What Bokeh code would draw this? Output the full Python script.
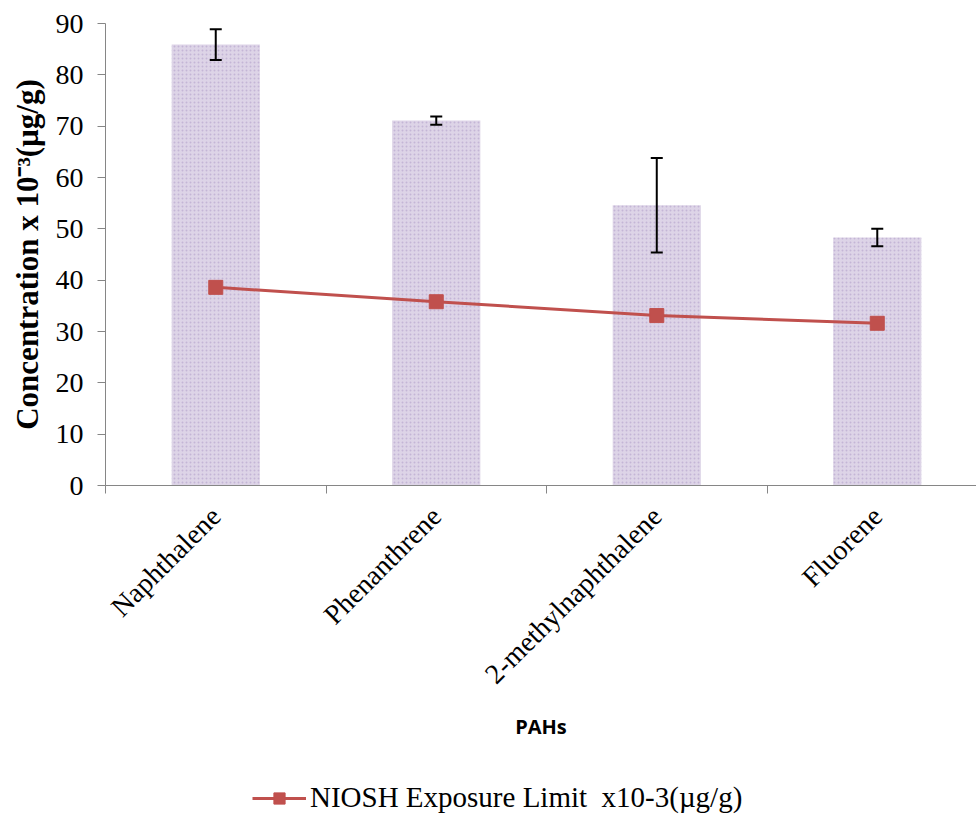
import math
from bokeh.plotting import figure
from bokeh.layouts import column
from bokeh.models import (Range1d, FixedTicker, ColumnDataSource, Whisker, TeeHead,
                          Legend, LegendItem)
from bokeh.embed import file_html
from bokeh.resources import INLINE

categories = ["Naphthalene", "Phenanthrene", "2-methylnaphthalene", "Fluorene"]
concentration = [85.9, 71.1, 54.6, 48.3]
error = [3.0, 0.8, 9.2, 1.7]
niosh_limit = [38.6, 35.8, 33.1, 31.6]
y_ticks = [0, 10, 20, 30, 40, 50, 60, 70, 80, 90]
legend_label = "NIOSH Exposure Limit  x10-3(\u00b5g/g)"

xs = [i + 0.5 for i in range(len(categories))]
src = ColumnDataSource(dict(
    x=xs, top=concentration,
    upper=[c + e for c, e in zip(concentration, error)],
    lower=[c - e for c, e in zip(concentration, error)],
    niosh=niosh_limit,
))

SERIF = "Liberation Serif"
RED = "#c0504d"

p = figure(frame_width=871, frame_height=462, output_backend="svg", toolbar_location=None,
           x_range=Range1d(0, 3.95), y_range=Range1d(0, 90),
           min_border_left=105, min_border_right=0, min_border_top=23, min_border_bottom=262)
p.outline_line_color = None
p.xgrid.visible = False
p.ygrid.visible = False

p.vbar(x="x", top="top", width=0.4, source=src, fill_color="#ddd4e7",
       line_color=None, hatch_pattern="dot", hatch_color="#c4b5d6", hatch_scale=4)

whisk = Whisker(base="x", upper="upper", lower="lower", source=src,
                line_color="black", line_width=2, level="overlay",
                upper_head=TeeHead(size=12, line_color="black", line_width=2),
                lower_head=TeeHead(size=12, line_color="black", line_width=2))
p.add_layout(whisk)

p.line("x", "niosh", source=src, line_color=RED, line_width=3)
p.scatter("x", "niosh", source=src, marker="square", size=14,
          fill_color=RED, line_color=RED)

# Y axis
yax = p.yaxis[0]
yax.ticker = FixedTicker(ticks=y_ticks)
yax.axis_line_color = "#868686"
yax.major_tick_line_color = "#868686"
yax.major_tick_out = 8
yax.major_tick_in = 0
yax.minor_tick_line_color = None
yax.major_label_text_font = SERIF
yax.major_label_text_font_size = "28px"
yax.major_label_text_color = "black"
yax.major_label_standoff = 14
yax.axis_label = "Concentration x 10\u207b\u00b3(\u00b5g/g)"
yax.axis_label_text_font = SERIF
yax.axis_label_text_font_style = "bold"
yax.axis_label_text_font_size = "31px"
yax.axis_label_text_color = "black"
yax.axis_label_standoff = 8

# X axis
xax = p.xaxis[0]
xax.ticker = FixedTicker(ticks=xs, minor_ticks=[0, 1, 2, 3, 4])
xax.major_label_overrides = {x: c for x, c in zip(xs, categories)}
xax.major_label_orientation = math.pi / 4
xax.axis_line_color = "#868686"
xax.major_tick_line_color = None
xax.minor_tick_line_color = "#868686"
xax.minor_tick_out = 8
xax.minor_tick_in = 0
xax.major_label_text_font = SERIF
xax.major_label_text_font_size = "28px"
xax.major_label_text_color = "black"
xax.major_label_standoff = 18
xax.axis_label = "PAHs"
xax.axis_label_text_font = "Open Sans"
xax.axis_label_text_font_style = "bold"
xax.axis_label_text_font_size = "20px"
xax.axis_label_text_color = "black"
xax.axis_label_standoff = 9

# Legend strip below the chart (series drawn out of view so only its legend shows)
leg = figure(width=976, height=67, output_backend="svg", toolbar_location=None,
             x_range=Range1d(100, 101), y_range=Range1d(100, 101),
             x_axis_type=None, y_axis_type=None,
             min_border_left=0, min_border_right=0, min_border_top=0, min_border_bottom=0)
leg.outline_line_color = None
leg.grid.visible = False
lln = leg.line("x", "niosh", source=src, line_color=RED, line_width=3)
lsq = leg.scatter("x", "niosh", source=src, marker="square", size=14,
                  fill_color=RED, line_color=RED)
legend = Legend(items=[LegendItem(label=legend_label, renderers=[lln, lsq])],
                orientation="horizontal", location=(147, 0),
                label_text_font=SERIF, label_text_font_size="29px", label_text_color="black",
                glyph_width=54, glyph_height=28, label_height=28, border_line_color=None,
                background_fill_alpha=0, padding=0, margin=0, label_standoff=4)
leg.add_layout(legend, "center")

open("out.html", "w").write(file_html(column(p, leg), INLINE))
